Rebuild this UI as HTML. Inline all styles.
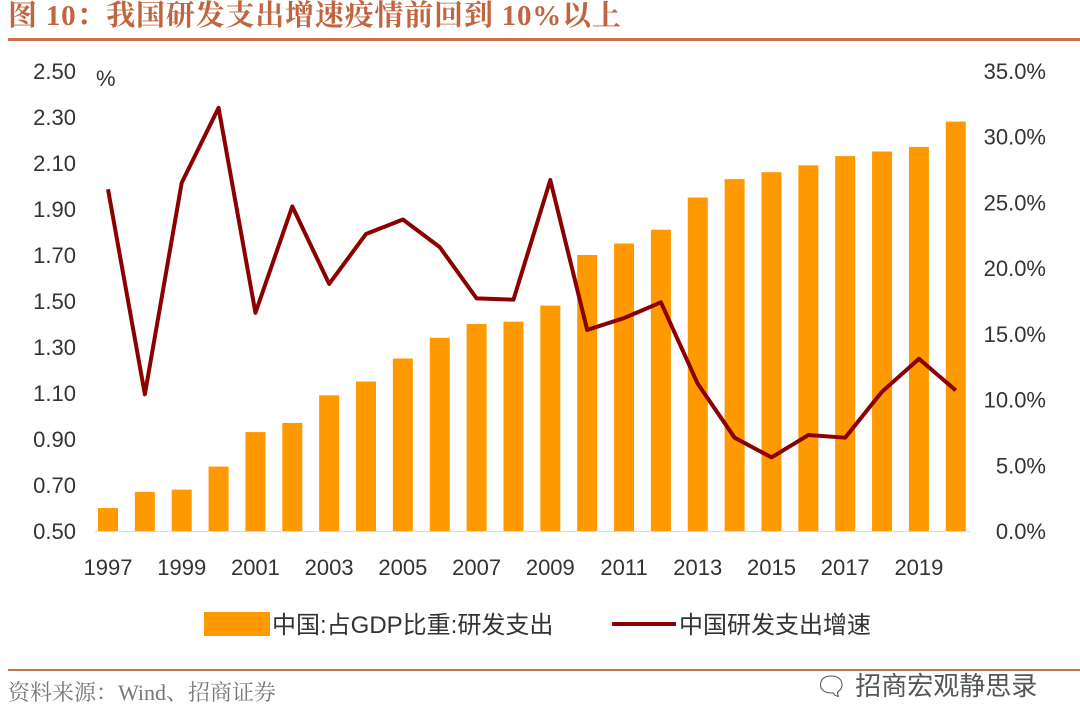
<!DOCTYPE html>
<html><head><meta charset="utf-8"><style>
body{margin:0;background:#fff;width:1080px;height:728px;overflow:hidden;position:relative;font-family:"Liberation Sans","Noto Sans CJK SC",sans-serif}
.t{position:absolute;left:8px;top:-3px;font-family:"Liberation Serif","Noto Serif CJK SC",serif;font-weight:bold;font-size:29px;line-height:38px;color:#c0653f;letter-spacing:0.8px}
.rule{position:absolute;left:8px;right:0;height:3px;background:#c8724d}
.src{position:absolute;left:8px;top:676px;font-family:"Liberation Serif","Noto Serif CJK SC",serif;font-size:22px;color:#777}
.wm{position:absolute;left:815px;top:666px;font-size:26px;color:#555}
</style></head><body>
<div class="t">图 10：我国研发支出增速疫情前回到 10%以上</div>
<div class="rule" style="top:38px"></div>
<div class="rule" style="top:669px;height:2px"></div>
<div class="src">资料来源：Wind、招商证券</div>
<div class="wm">🗨 招商宏观静思录</div>
<svg id="c" width="1080" height="728" style="position:absolute;left:0;top:0"></svg>
<script>
const years=[1997,1998,1999,2000,2001,2002,2003,2004,2005,2006,2007,2008,2009,2010,2011,2012,2013,2014,2015,2016,2017,2018,2019,2020];
const ratio=[0.60,0.67,0.68,0.78,0.93,0.97,1.09,1.15,1.25,1.34,1.40,1.41,1.48,1.70,1.75,1.81,1.95,2.03,2.06,2.09,2.13,2.15,2.17,2.28];
const growth=[26.0,10.4,26.5,32.2,16.6,24.7,18.8,22.6,23.7,21.6,17.7,17.6,26.7,15.3,16.2,17.4,11.2,7.1,5.6,7.3,7.1,10.6,13.1,10.7];
const leftTicks=[0.50,0.70,0.90,1.10,1.30,1.50,1.70,1.90,2.10,2.30,2.50];
const rightTicks=[0,5,10,15,20,25,30,35];
const svg=document.getElementById('c');const NS='http://www.w3.org/2000/svg';
function el(t,a,p){const e=document.createElementNS(NS,t);for(const k in a)e.setAttribute(k,a[k]);(p||svg).appendChild(e);return e;}
const x=i=>108+i*36.86;
const yL=v=>531-(v-0.5)/2.0*460;
const yR=v=>531-v/35*460;
leftTicks.forEach(v=>{const t=el('text',{x:76,y:yL(v)+8,'text-anchor':'end','font-size':22,fill:'#333'});t.textContent=v.toFixed(2);
});
rightTicks.forEach(v=>{const t=el('text',{x:1046,y:yR(v)+8,'text-anchor':'end','font-size':22,fill:'#333'});t.textContent=v.toFixed(1)+'%';
});
const u=el('text',{x:96,y:86,'font-size':22,fill:'#333'});u.textContent='%';

years.forEach((yr,i)=>{const h=yL(0.5)-yL(ratio[i]);const b=el('rect',{x:x(i)-10,y:yL(ratio[i]),width:20,height:h,fill:'#ff9900'});

if(i%2==0){const t=el('text',{x:x(i),y:575,'text-anchor':'middle','font-size':22,fill:'#333'});t.textContent=yr;
}});
const ax=el('line',{x1:95,x2:970,y1:531.5,y2:531.5,stroke:'#d9d9d9','stroke-width':1});

const pl=el('polyline',{points:growth.map((v,i)=>x(i)+','+yR(v)).join(' '),fill:'none',stroke:'#8b0000','stroke-width':4,'stroke-linejoin':'round'});

const lg1=el('rect',{x:204,y:612,width:66,height:24,fill:'#ff9900'});

const lt1=el('text',{x:272,y:633,'font-size':24,fill:'#333'});lt1.textContent='中国:占GDP比重:研发支出';

const lg2=el('line',{x1:612,x2:676,y1:624,y2:624,stroke:'#8b0000','stroke-width':4});

const lt2=el('text',{x:679,y:633,'font-size':24,fill:'#333'});lt2.textContent='中国研发支出增速';

</script>
</body></html>
